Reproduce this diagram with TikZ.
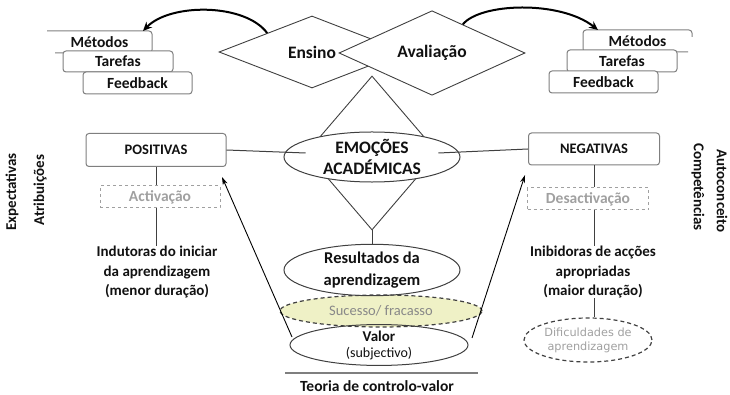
\documentclass[tikz,border=0pt]{standalone}
\usepackage{fontspec}
\setmainfont{Carlito}
\newfontfamily\djv{DejaVu Sans}
\usetikzlibrary{shapes.geometric,calc,arrows.meta}
\definecolor{txt}{HTML}{111111}
\definecolor{boxgray}{HTML}{7F7F7F}
\definecolor{gtxt}{HTML}{A0A0A0}
\definecolor{dline}{HTML}{404040}
\definecolor{yel}{HTML}{EFF1C6}
\begin{document}
\begin{tikzpicture}[x=1pt,y=-1pt,
  every node/.style={font=\fontsize{15.5}{19}\selectfont\bfseries, text=txt, inner sep=0pt, align=center},
  sbox/.style={draw=boxgray, line width=1pt, rounded corners=3pt, fill=white},
  boxline/.style={draw=boxgray, line width=1pt, rounded corners=3pt},
  dia/.style={diamond, draw=dline, line width=0.9pt, font=\fontsize{17.5}{21}\selectfont\bfseries},
  ell/.style={ellipse, draw=dline, line width=1pt},
  dbox/.style={draw=gtxt, dashed, line width=1pt, text=gtxt},
  conn/.style={draw=dline, line width=1pt},
  arc/.style={draw=black, line width=2pt, -{Stealth[length=9pt,width=8pt]}},
  arr/.style={draw=black, line width=0.9pt, -{Stealth[length=8pt,width=5pt]}},
  vlab/.style={font=\fontsize{15}{18}\selectfont\bfseries}
]
\useasboundingbox (0,0) rectangle (730,395);

% left stacked boxes
\draw[boxline] (47,31) -- (152,31) -- (152,53) -- (55,53);
\node (m1) at (99.5,42) {Métodos};
\node[sbox, minimum width=110, minimum height=21] (t1) at (118,61.5) {Tarefas};
\node[sbox, minimum width=109, minimum height=22] (f1) at (137.5,83) {Feedback};
\coordinate (m1tip) at (143,31);

% right stacked boxes
\draw[boxline] (692,37) -- (692,30) -- (583,30) -- (583,52) -- (688,52);
\node (m2) at (637.5,41) {Métodos};
\node[sbox, minimum width=110, minimum height=22] (t2) at (622,61) {Tarefas};
\node[sbox, minimum width=109, minimum height=22] (f2) at (603.5,82) {Feedback};
\coordinate (m2tip) at (598,30);

% diamonds
\node[dia, minimum width=186, minimum height=72] (ens) at (312,52) {Ensino};
\node[dia, fill=white, minimum width=186, minimum height=70] (ava) at (432,53) {Avaliação};

\coordinate (a1) at ($(ens.west)!0.52!(ens.north)$);
\coordinate (a2) at ($(ava.north)!0.33!(ava.east)$);
\draw[arc] (a1) .. controls (245,3) and (170,3) .. (m1tip);
\draw[arc] (a2) .. controls (480,3) and (560,0) .. (m2tip);

% central diamond and emotions
\node[diamond, draw=dline, line width=0.9pt, minimum width=132, minimum height=154] (dmd) at (372,153) {};
\node[ell, fill=white, minimum width=176, minimum height=48, font=\fontsize{17.5}{21}\selectfont\bfseries] (emo) at (372,157) {EMOÇÕES\\ACADÉMICAS};

% side boxes
\node[sbox, minimum width=140, minimum height=33, font=\fontsize{14.5}{17}\selectfont\bfseries] (pos) at (156,150) {POSITIVAS};
\node[sbox, minimum width=131, minimum height=32, font=\fontsize{14.5}{17}\selectfont\bfseries] (neg) at (594,149) {NEGATIVAS};
\draw[conn] (pos.east) -- (dmd.west);
\draw[conn] (neg.west) -- (dmd.east);

\node[dbox, minimum width=120, minimum height=22] (act) at (160,197) {Activação};
\node[dbox, minimum width=121, minimum height=22] (des) at (588,199) {Desactivação};
\node[font=\fontsize{15}{19.5}\selectfont\bfseries] (ind) at (157,272) {Indutoras do iniciar\\da aprendizagem\\(menor duração)};
\node[font=\fontsize{15}{19.5}\selectfont\bfseries] (inb) at (593,272) {Inibidoras de acções\\apropriadas\\(maior duração)};
\draw[conn] (pos.south) -- (pos.south |- act.north);
\draw[conn] (pos.south |- act.south) -- (pos.south |- ind.north);
\draw[conn] (neg.south) -- (neg.south |- des.north);
\draw[conn] (neg.south |- des.south) -- (neg.south |- inb.north);

\node[ellipse, draw=dline, dashed, dash pattern=on 4pt off 3pt, line width=1.2pt, minimum width=128, minimum height=44, text=gtxt, font=\djv\fontsize{11.3}{14}\selectfont] (dif) at (588,340) {Dificuldades de\\aprendizagem};
\draw[conn] (inb.south -| neg.south) -- (neg.south |- dif.north);

% lower ellipses
\node[ellipse, draw=dline, dashed, dash pattern=on 4pt off 3pt, line width=1.2pt, fill=yel, minimum width=202, minimum height=32, text=gtxt!85!black, font=\fontsize{14.5}{17}\selectfont] (suc) at (381,311) {Sucesso/ fracasso};
\node[ell, minimum width=176, minimum height=50, font=\fontsize{16.5}{22}\selectfont\bfseries] (res) at (372,270) {Resultados da\\aprendizagem};
\node[ell, minimum width=178, minimum height=34, font=\fontsize{15}{16}\selectfont\bfseries] (val) at (379,345) {Valor\\{\mdseries\fontsize{14}{16}\selectfont(subjectivo)}};
\draw[conn] (dmd.south) -- (res.north);

% arrows to the side boxes
\coordinate (lb) at (292,337);
\coordinate (lt) at (222,177);
\coordinate (rb) at (472,338);
\coordinate (rt) at (525,175);
\draw[arr] (lb) -- (lt);
\draw[arr] (rb) -- (rt);

% bottom line and label
\coordinate (hl1) at (285,373);
\coordinate (hl2) at (478,373);
\draw[draw=boxgray, line width=1.5pt] (hl1) -- (hl2);
\node (teo) at (377,386) {Teoria de controlo-valor};

% vertical labels
\node[vlab, rotate=90] (exp) at (12,192) {Expectativas};
\node[vlab, rotate=90] (atr) at (40,190) {Atribuições};
\node[vlab, rotate=-90] (comp) at (698,187) {Competências};
\node[vlab, rotate=-90] (auto) at (722,191) {Autoconceito};
\end{tikzpicture}
\end{document}
